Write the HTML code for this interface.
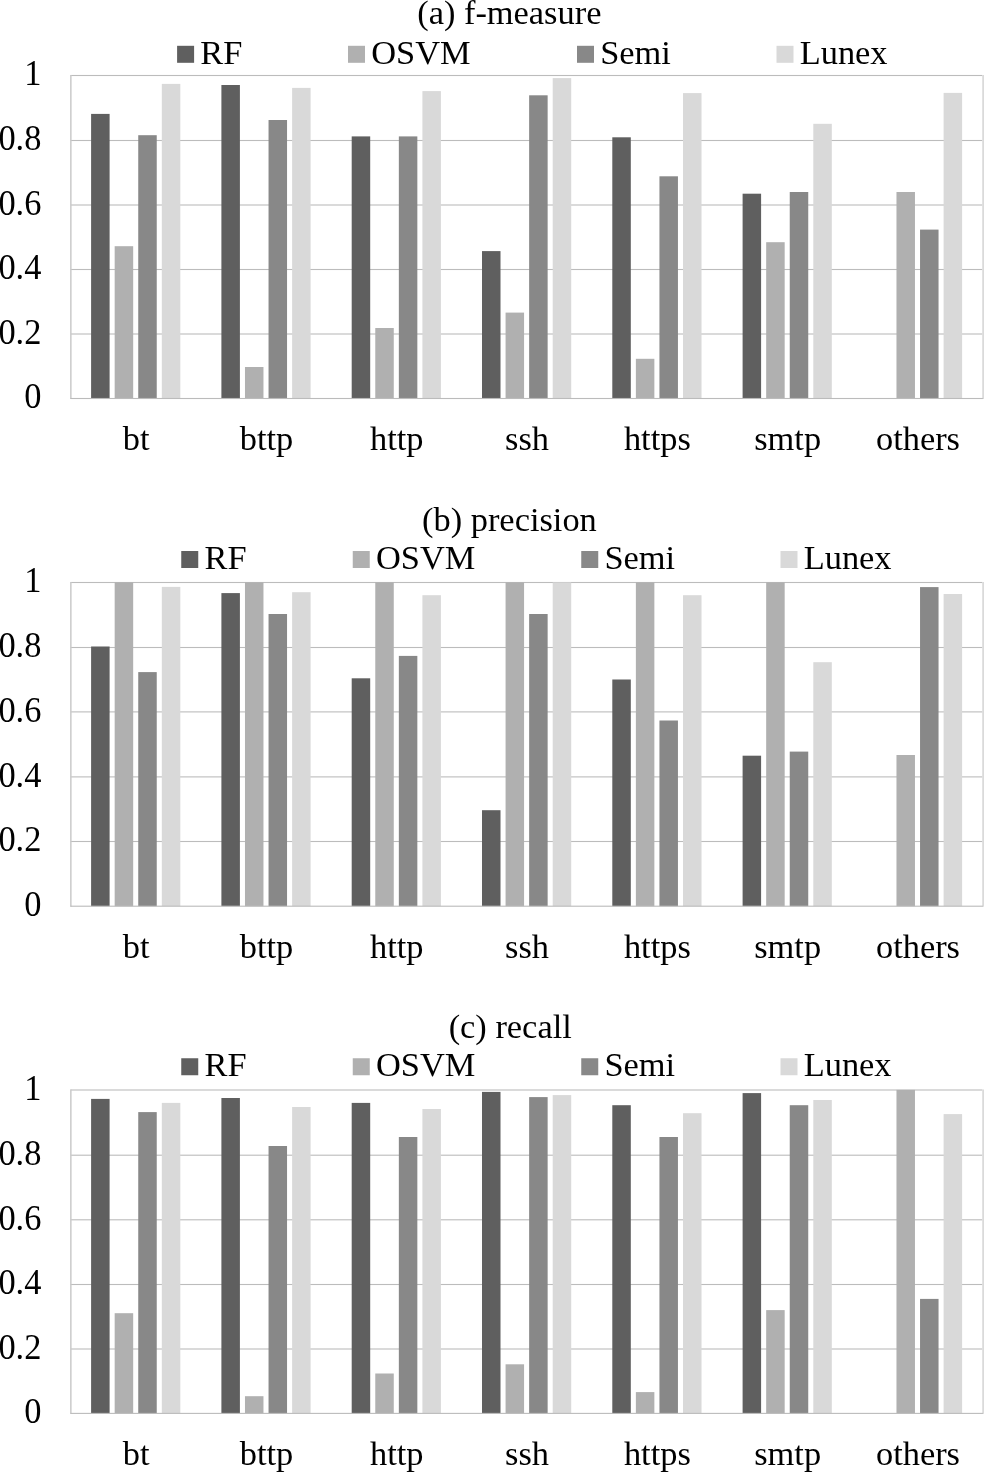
<!DOCTYPE html><html><head><meta charset="utf-8"><title>chart</title><style>html,body{margin:0;padding:0;background:#fff;overflow:hidden;}svg{display:block;will-change:transform;}text{font-family:"Liberation Serif",serif;font-size:34.4px;fill:#000;}</style></head><body>
<svg width="984" height="1472" viewBox="0 0 984 1472">
<rect x="0" y="0" width="984" height="1472" fill="#fff"/>
<rect x="70.50" y="74.95" width="911.80" height="1.1" fill="#bcbcbc"/>
<rect x="70.50" y="139.95" width="911.80" height="1.1" fill="#bcbcbc"/>
<rect x="70.50" y="204.45" width="911.80" height="1.1" fill="#bcbcbc"/>
<rect x="70.50" y="268.95" width="911.80" height="1.1" fill="#bcbcbc"/>
<rect x="70.50" y="333.45" width="911.80" height="1.1" fill="#bcbcbc"/>
<rect x="70.10" y="75.00" width="1.5" height="324.00" fill="#cacaca"/>
<rect x="982.30" y="75.00" width="1.6" height="324.00" fill="#d6d6d6"/>
<rect x="91.10" y="113.90" width="18.5" height="284.60" fill="#5f5f5f"/>
<rect x="114.67" y="246.20" width="18.5" height="152.30" fill="#b0b0b0"/>
<rect x="138.24" y="135.20" width="18.5" height="263.30" fill="#888888"/>
<rect x="161.81" y="83.90" width="18.5" height="314.60" fill="#d9d9d9"/>
<rect x="221.40" y="85.00" width="18.5" height="313.50" fill="#5f5f5f"/>
<rect x="244.97" y="367.00" width="18.5" height="31.50" fill="#b0b0b0"/>
<rect x="268.54" y="120.00" width="18.5" height="278.50" fill="#888888"/>
<rect x="292.11" y="87.90" width="18.5" height="310.60" fill="#d9d9d9"/>
<rect x="351.70" y="136.40" width="18.5" height="262.10" fill="#5f5f5f"/>
<rect x="375.27" y="328.00" width="18.5" height="70.50" fill="#b0b0b0"/>
<rect x="398.84" y="136.40" width="18.5" height="262.10" fill="#888888"/>
<rect x="422.41" y="91.10" width="18.5" height="307.40" fill="#d9d9d9"/>
<rect x="482.00" y="251.10" width="18.5" height="147.40" fill="#5f5f5f"/>
<rect x="505.57" y="312.60" width="18.5" height="85.90" fill="#b0b0b0"/>
<rect x="529.14" y="95.30" width="18.5" height="303.20" fill="#888888"/>
<rect x="552.71" y="78.10" width="18.5" height="320.40" fill="#d9d9d9"/>
<rect x="612.30" y="137.30" width="18.5" height="261.20" fill="#5f5f5f"/>
<rect x="635.87" y="358.80" width="18.5" height="39.70" fill="#b0b0b0"/>
<rect x="659.44" y="176.30" width="18.5" height="222.20" fill="#888888"/>
<rect x="683.01" y="93.10" width="18.5" height="305.40" fill="#d9d9d9"/>
<rect x="742.60" y="193.70" width="18.5" height="204.80" fill="#5f5f5f"/>
<rect x="766.17" y="242.20" width="18.5" height="156.30" fill="#b0b0b0"/>
<rect x="789.74" y="192.00" width="18.5" height="206.50" fill="#888888"/>
<rect x="813.31" y="123.80" width="18.5" height="274.70" fill="#d9d9d9"/>
<rect x="896.47" y="192.00" width="18.5" height="206.50" fill="#b0b0b0"/>
<rect x="920.04" y="229.60" width="18.5" height="168.90" fill="#888888"/>
<rect x="943.61" y="92.90" width="18.5" height="305.60" fill="#d9d9d9"/>
<rect x="70.50" y="397.95" width="912.40" height="1.1" fill="#bbbbbb"/>
<text transform="translate(41.40 85.40) scale(1 1.035)" text-anchor="end">1</text>
<text transform="translate(41.40 150.40) scale(1 1.035)" text-anchor="end">0.8</text>
<text transform="translate(41.40 214.90) scale(1 1.035)" text-anchor="end">0.6</text>
<text transform="translate(41.40 279.40) scale(1 1.035)" text-anchor="end">0.4</text>
<text transform="translate(41.40 343.90) scale(1 1.035)" text-anchor="end">0.2</text>
<text transform="translate(41.40 408.40) scale(1 1.035)" text-anchor="end">0</text>
<text transform="translate(136.15 449.85) scale(1 1.0)" text-anchor="middle">bt</text>
<text transform="translate(266.45 449.85) scale(1 1.0)" text-anchor="middle">bttp</text>
<text transform="translate(396.75 449.85) scale(1 1.0)" text-anchor="middle">http</text>
<text transform="translate(527.05 449.85) scale(1 1.0)" text-anchor="middle">ssh</text>
<text transform="translate(657.35 449.85) scale(1 1.0)" text-anchor="middle">https</text>
<text transform="translate(787.65 449.85) scale(1 1.0)" text-anchor="middle">smtp</text>
<text transform="translate(917.95 449.85) scale(1 1.0)" text-anchor="middle">others</text>
<text transform="translate(509.30 23.75) scale(1 1.0)" text-anchor="middle">(a) f-measure</text>
<rect x="177.10" y="45.80" width="17" height="17" fill="#5f5f5f"/>
<text transform="translate(200.30 64.00) scale(1 1.0)">RF</text>
<rect x="348.00" y="45.80" width="17" height="17" fill="#b0b0b0"/>
<text transform="translate(371.20 64.00) scale(1 1.0)">OSVM</text>
<rect x="577.00" y="45.80" width="17" height="17" fill="#888888"/>
<text transform="translate(600.20 64.00) scale(1 1.0)">Semi</text>
<rect x="776.50" y="45.80" width="17" height="17" fill="#d9d9d9"/>
<text transform="translate(799.70 64.00) scale(1 1.0)">Lunex</text>
<rect x="70.50" y="581.95" width="911.80" height="1.1" fill="#bcbcbc"/>
<rect x="70.50" y="646.95" width="911.80" height="1.1" fill="#bcbcbc"/>
<rect x="70.50" y="711.35" width="911.80" height="1.1" fill="#bcbcbc"/>
<rect x="70.50" y="776.35" width="911.80" height="1.1" fill="#bcbcbc"/>
<rect x="70.50" y="840.95" width="911.80" height="1.1" fill="#bcbcbc"/>
<rect x="70.10" y="582.00" width="1.5" height="324.70" fill="#cacaca"/>
<rect x="982.30" y="582.00" width="1.6" height="324.70" fill="#d6d6d6"/>
<rect x="91.10" y="646.50" width="18.5" height="259.70" fill="#5f5f5f"/>
<rect x="114.67" y="582.40" width="18.5" height="323.80" fill="#b0b0b0"/>
<rect x="138.24" y="672.10" width="18.5" height="234.10" fill="#888888"/>
<rect x="161.81" y="586.90" width="18.5" height="319.30" fill="#d9d9d9"/>
<rect x="221.40" y="593.10" width="18.5" height="313.10" fill="#5f5f5f"/>
<rect x="244.97" y="582.40" width="18.5" height="323.80" fill="#b0b0b0"/>
<rect x="268.54" y="614.00" width="18.5" height="292.20" fill="#888888"/>
<rect x="292.11" y="592.20" width="18.5" height="314.00" fill="#d9d9d9"/>
<rect x="351.70" y="678.30" width="18.5" height="227.90" fill="#5f5f5f"/>
<rect x="375.27" y="582.40" width="18.5" height="323.80" fill="#b0b0b0"/>
<rect x="398.84" y="655.90" width="18.5" height="250.30" fill="#888888"/>
<rect x="422.41" y="595.20" width="18.5" height="311.00" fill="#d9d9d9"/>
<rect x="482.00" y="810.20" width="18.5" height="96.00" fill="#5f5f5f"/>
<rect x="505.57" y="582.40" width="18.5" height="323.80" fill="#b0b0b0"/>
<rect x="529.14" y="614.00" width="18.5" height="292.20" fill="#888888"/>
<rect x="552.71" y="582.40" width="18.5" height="323.80" fill="#d9d9d9"/>
<rect x="612.30" y="679.50" width="18.5" height="226.70" fill="#5f5f5f"/>
<rect x="635.87" y="582.40" width="18.5" height="323.80" fill="#b0b0b0"/>
<rect x="659.44" y="720.50" width="18.5" height="185.70" fill="#888888"/>
<rect x="683.01" y="595.20" width="18.5" height="311.00" fill="#d9d9d9"/>
<rect x="742.60" y="755.70" width="18.5" height="150.50" fill="#5f5f5f"/>
<rect x="766.17" y="582.40" width="18.5" height="323.80" fill="#b0b0b0"/>
<rect x="789.74" y="751.60" width="18.5" height="154.60" fill="#888888"/>
<rect x="813.31" y="662.20" width="18.5" height="244.00" fill="#d9d9d9"/>
<rect x="896.47" y="755.00" width="18.5" height="151.20" fill="#b0b0b0"/>
<rect x="920.04" y="587.10" width="18.5" height="319.10" fill="#888888"/>
<rect x="943.61" y="594.00" width="18.5" height="312.20" fill="#d9d9d9"/>
<rect x="70.50" y="905.65" width="912.40" height="1.1" fill="#bbbbbb"/>
<text transform="translate(41.40 592.40) scale(1 1.035)" text-anchor="end">1</text>
<text transform="translate(41.40 657.40) scale(1 1.035)" text-anchor="end">0.8</text>
<text transform="translate(41.40 721.80) scale(1 1.035)" text-anchor="end">0.6</text>
<text transform="translate(41.40 786.80) scale(1 1.035)" text-anchor="end">0.4</text>
<text transform="translate(41.40 851.40) scale(1 1.035)" text-anchor="end">0.2</text>
<text transform="translate(41.40 916.10) scale(1 1.035)" text-anchor="end">0</text>
<text transform="translate(136.15 957.90) scale(1 1.0)" text-anchor="middle">bt</text>
<text transform="translate(266.45 957.90) scale(1 1.0)" text-anchor="middle">bttp</text>
<text transform="translate(396.75 957.90) scale(1 1.0)" text-anchor="middle">http</text>
<text transform="translate(527.05 957.90) scale(1 1.0)" text-anchor="middle">ssh</text>
<text transform="translate(657.35 957.90) scale(1 1.0)" text-anchor="middle">https</text>
<text transform="translate(787.65 957.90) scale(1 1.0)" text-anchor="middle">smtp</text>
<text transform="translate(917.95 957.90) scale(1 1.0)" text-anchor="middle">others</text>
<text transform="translate(509.40 530.60) scale(1 1.0)" text-anchor="middle">(b) precision</text>
<rect x="181.25" y="551.00" width="17" height="17" fill="#5f5f5f"/>
<text transform="translate(204.45 569.00) scale(1 1.0)">RF</text>
<rect x="352.75" y="551.00" width="17" height="17" fill="#b0b0b0"/>
<text transform="translate(375.95 569.00) scale(1 1.0)">OSVM</text>
<rect x="581.25" y="551.00" width="17" height="17" fill="#888888"/>
<text transform="translate(604.45 569.00) scale(1 1.0)">Semi</text>
<rect x="780.50" y="551.00" width="17" height="17" fill="#d9d9d9"/>
<text transform="translate(803.70 569.00) scale(1 1.0)">Lunex</text>
<rect x="70.50" y="1089.45" width="911.80" height="1.1" fill="#bcbcbc"/>
<rect x="70.50" y="1154.65" width="911.80" height="1.1" fill="#bcbcbc"/>
<rect x="70.50" y="1219.25" width="911.80" height="1.1" fill="#bcbcbc"/>
<rect x="70.50" y="1283.95" width="911.80" height="1.1" fill="#bcbcbc"/>
<rect x="70.50" y="1348.45" width="911.80" height="1.1" fill="#bcbcbc"/>
<rect x="70.10" y="1089.50" width="1.5" height="324.40" fill="#cacaca"/>
<rect x="982.30" y="1089.50" width="1.6" height="324.40" fill="#d6d6d6"/>
<rect x="91.10" y="1098.90" width="18.5" height="314.50" fill="#5f5f5f"/>
<rect x="114.67" y="1313.20" width="18.5" height="100.20" fill="#b0b0b0"/>
<rect x="138.24" y="1112.10" width="18.5" height="301.30" fill="#888888"/>
<rect x="161.81" y="1102.90" width="18.5" height="310.50" fill="#d9d9d9"/>
<rect x="221.40" y="1098.00" width="18.5" height="315.40" fill="#5f5f5f"/>
<rect x="244.97" y="1396.20" width="18.5" height="17.20" fill="#b0b0b0"/>
<rect x="268.54" y="1146.00" width="18.5" height="267.40" fill="#888888"/>
<rect x="292.11" y="1107.00" width="18.5" height="306.40" fill="#d9d9d9"/>
<rect x="351.70" y="1102.90" width="18.5" height="310.50" fill="#5f5f5f"/>
<rect x="375.27" y="1373.50" width="18.5" height="39.90" fill="#b0b0b0"/>
<rect x="398.84" y="1137.00" width="18.5" height="276.40" fill="#888888"/>
<rect x="422.41" y="1109.00" width="18.5" height="304.40" fill="#d9d9d9"/>
<rect x="482.00" y="1091.90" width="18.5" height="321.50" fill="#5f5f5f"/>
<rect x="505.57" y="1364.30" width="18.5" height="49.10" fill="#b0b0b0"/>
<rect x="529.14" y="1097.10" width="18.5" height="316.30" fill="#888888"/>
<rect x="552.71" y="1095.10" width="18.5" height="318.30" fill="#d9d9d9"/>
<rect x="612.30" y="1105.20" width="18.5" height="308.20" fill="#5f5f5f"/>
<rect x="635.87" y="1392.10" width="18.5" height="21.30" fill="#b0b0b0"/>
<rect x="659.44" y="1137.00" width="18.5" height="276.40" fill="#888888"/>
<rect x="683.01" y="1113.20" width="18.5" height="300.20" fill="#d9d9d9"/>
<rect x="742.60" y="1093.10" width="18.5" height="320.30" fill="#5f5f5f"/>
<rect x="766.17" y="1310.10" width="18.5" height="103.30" fill="#b0b0b0"/>
<rect x="789.74" y="1105.20" width="18.5" height="308.20" fill="#888888"/>
<rect x="813.31" y="1100.00" width="18.5" height="313.40" fill="#d9d9d9"/>
<rect x="896.47" y="1089.90" width="18.5" height="323.50" fill="#b0b0b0"/>
<rect x="920.04" y="1298.90" width="18.5" height="114.50" fill="#888888"/>
<rect x="943.61" y="1114.10" width="18.5" height="299.30" fill="#d9d9d9"/>
<rect x="70.50" y="1412.85" width="912.40" height="1.1" fill="#bbbbbb"/>
<text transform="translate(41.40 1099.90) scale(1 1.035)" text-anchor="end">1</text>
<text transform="translate(41.40 1165.10) scale(1 1.035)" text-anchor="end">0.8</text>
<text transform="translate(41.40 1229.70) scale(1 1.035)" text-anchor="end">0.6</text>
<text transform="translate(41.40 1294.40) scale(1 1.035)" text-anchor="end">0.4</text>
<text transform="translate(41.40 1358.90) scale(1 1.035)" text-anchor="end">0.2</text>
<text transform="translate(41.40 1423.30) scale(1 1.035)" text-anchor="end">0</text>
<text transform="translate(136.15 1465.10) scale(1 1.0)" text-anchor="middle">bt</text>
<text transform="translate(266.45 1465.10) scale(1 1.0)" text-anchor="middle">bttp</text>
<text transform="translate(396.75 1465.10) scale(1 1.0)" text-anchor="middle">http</text>
<text transform="translate(527.05 1465.10) scale(1 1.0)" text-anchor="middle">ssh</text>
<text transform="translate(657.35 1465.10) scale(1 1.0)" text-anchor="middle">https</text>
<text transform="translate(787.65 1465.10) scale(1 1.0)" text-anchor="middle">smtp</text>
<text transform="translate(917.95 1465.10) scale(1 1.0)" text-anchor="middle">others</text>
<text transform="translate(510.20 1038.40) scale(1 1.0)" text-anchor="middle">(c) recall</text>
<rect x="181.25" y="1058.25" width="17" height="17" fill="#5f5f5f"/>
<text transform="translate(204.45 1076.25) scale(1 1.0)">RF</text>
<rect x="352.75" y="1058.25" width="17" height="17" fill="#b0b0b0"/>
<text transform="translate(375.95 1076.25) scale(1 1.0)">OSVM</text>
<rect x="581.25" y="1058.25" width="17" height="17" fill="#888888"/>
<text transform="translate(604.45 1076.25) scale(1 1.0)">Semi</text>
<rect x="780.50" y="1058.25" width="17" height="17" fill="#d9d9d9"/>
<text transform="translate(803.70 1076.25) scale(1 1.0)">Lunex</text>
</svg></body></html>
